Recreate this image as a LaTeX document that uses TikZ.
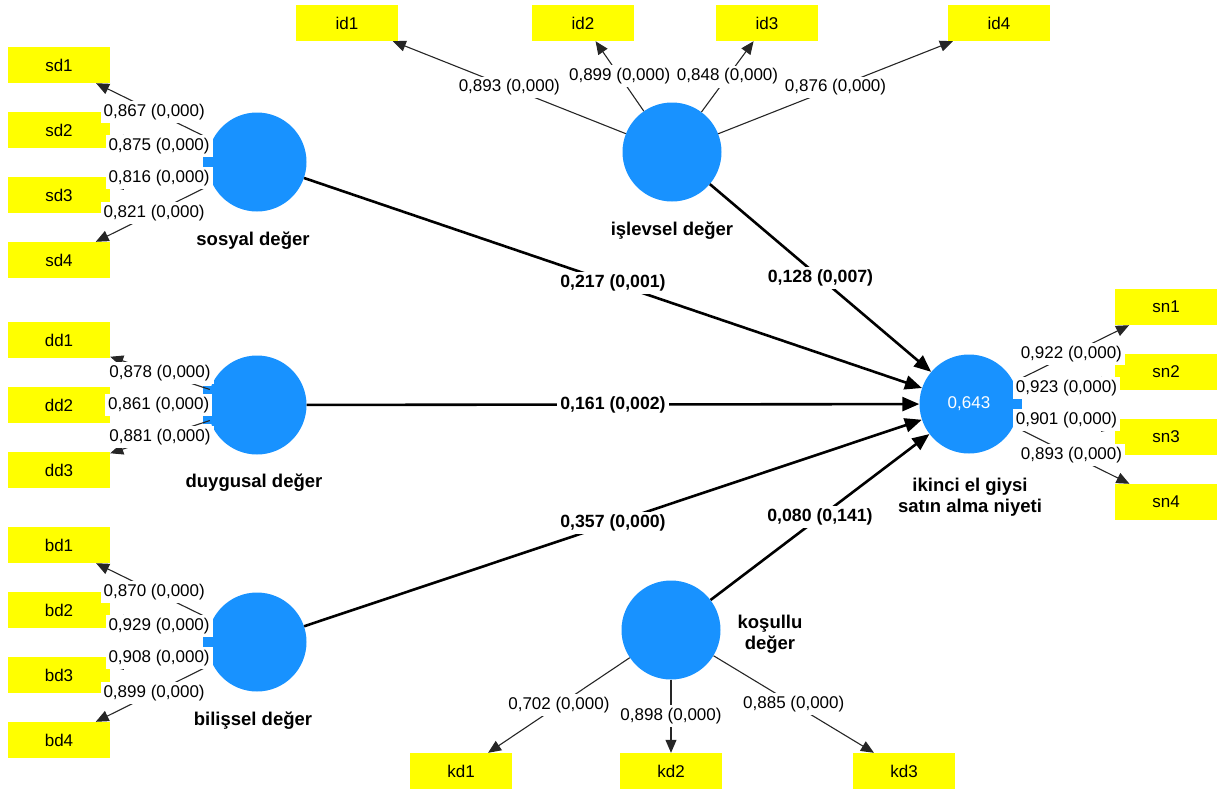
\documentclass[tikz,border=0pt]{standalone}
\usepackage{fontspec}
\setmainfont{Liberation Sans}
\usetikzlibrary{arrows.meta}
\definecolor{plsblue}{RGB}{24,146,255}
\definecolor{plsyellow}{RGB}{255,255,0}
\begin{document}
\begin{tikzpicture}[x=1pt,y=-1pt,
 ind/.style={fill=plsyellow, minimum width=102pt, minimum height=36pt, inner sep=0pt, font=\fontsize{17}{20}\selectfont},
 lat/.style={circle, fill=plsblue, minimum size=99pt, inner sep=0pt, text=white, font=\fontsize{17}{20}\selectfont},
 stub/.style={fill=plsblue, minimum width=10pt, minimum height=38pt, inner sep=0pt},
 load/.style={draw=black!85, line width=1.1pt, -{Triangle[length=13pt,width=11pt]}},
 struct/.style={draw=black, line width=2.6pt, -{Triangle[length=17pt,width=14pt]}},
 lbl/.style={fill=white, inner sep=3pt, font=\fontsize{17}{20}\selectfont},
 plbl/.style={fill=white, inner sep=3pt, font=\bfseries\fontsize{17.7}{20}\selectfont},
 lname/.style={font=\bfseries\fontsize{18.5}{21}\selectfont, align=center, inner sep=0pt},
]
\useasboundingbox (0,0) rectangle (1218,793);
% indicators
\node[ind] (sd1) at (59,65) {sd1};
\node[ind] (sd2) at (59,130) {sd2};
\node[ind] (sd3) at (59,195) {sd3};
\node[ind] (sd4) at (59,260) {sd4};
\node[ind] (dd1) at (59,340) {dd1};
\node[ind] (dd2) at (59,405) {dd2};
\node[ind] (dd3) at (59,470) {dd3};
\node[ind] (bd1) at (59,545) {bd1};
\node[ind] (bd2) at (59,610) {bd2};
\node[ind] (bd3) at (59,675) {bd3};
\node[ind] (bd4) at (59,740) {bd4};
\node[ind] (id1) at (347,23) {id1};
\node[ind] (id2) at (583,23) {id2};
\node[ind] (id3) at (767,23) {id3};
\node[ind] (id4) at (999,23) {id4};
\node[ind] (sn1) at (1166,307) {sn1};
\node[ind] (sn2) at (1166,372) {sn2};
\node[ind] (sn3) at (1166,437) {sn3};
\node[ind] (sn4) at (1166,502) {sn4};
\node[ind] (kd1) at (461,771) {kd1};
\node[ind] (kd2) at (671,771) {kd2};
\node[ind] (kd3) at (904,771) {kd3};
% stubs
\node[stub] (st1) at (208,162) {};
\node[stub] (st2) at (208,405) {};
\node[stub] (st3) at (208,642) {};
\node[stub] (st4) at (1017,404) {};
% latent variables
\node[lat] (sos) at (257,162) {};
\node[lat] (isl) at (672,152) {};
\node[lat] (duy) at (257,405) {};
\node[lat] (bil) at (257,642) {};
\node[lat] (kos) at (671,630) {};
\node[lat] (ike) at (969,404) {0,643};
% names
\node[lname] at (253,241) {sosyal değer};
\node[lname] at (672,231) {işlevsel değer};
\node[lname] at (254,483) {duygusal değer};
\node[lname] at (253,721) {bilişsel değer};
\node[lname] at (970,497) {ikinci el giysi\\[0pt]satın alma niyeti};
\node[lname] at (770,634) {koşullu\\[0pt]değer};
% loadings
\draw[load] (sos) -- coordinate (m-sd1) (sd1);
\draw[load] (sos) -- coordinate (m-sd2) (sd2);
\draw[load] (sos) -- coordinate (m-sd3) (sd3);
\draw[load] (sos) -- coordinate (m-sd4) (sd4);
\draw[load] (duy) -- coordinate (m-dd1) (dd1);
\draw[load] (duy) -- coordinate (m-dd2) (dd2);
\draw[load] (duy) -- coordinate (m-dd3) (dd3);
\draw[load] (bil) -- coordinate (m-bd1) (bd1);
\draw[load] (bil) -- coordinate (m-bd2) (bd2);
\draw[load] (bil) -- coordinate (m-bd3) (bd3);
\draw[load] (bil) -- coordinate (m-bd4) (bd4);
\draw[load] (isl) -- coordinate (m-id1) (id1);
\draw[load] (isl) -- coordinate (m-id2) (id2);
\draw[load] (isl) -- coordinate (m-id3) (id3);
\draw[load] (isl) -- coordinate (m-id4) (id4);
\draw[load] (ike) -- coordinate (m-sn1) (sn1);
\draw[load] (ike) -- coordinate (m-sn2) (sn2);
\draw[load] (ike) -- coordinate (m-sn3) (sn3);
\draw[load] (ike) -- coordinate (m-sn4) (sn4);
\draw[load] (kos) -- coordinate (m-kd1) (kd1);
\draw[load] (kos) -- coordinate (m-kd2) (kd2);
\draw[load] (kos) -- coordinate (m-kd3) (kd3);
% structural paths
\draw[struct] (sos) -- coordinate (p1) (ike);
\draw[struct] (isl) -- coordinate (p2) (ike);
\draw[struct] (duy) -- coordinate (p3) (ike);
\draw[struct] (bil) -- coordinate (p4) (ike);
\draw[struct] (kos) -- coordinate (p5) (ike);
% labels
\node[lbl] at (m-sd1) {0,867 (0,000)};
\node[lbl] at (m-sd2) {0,875 (0,000)};
\node[lbl] at (m-sd3) {0,816 (0,000)};
\node[lbl] at (m-sd4) {0,821 (0,000)};
\node[lbl] at (m-dd1) {0,878 (0,000)};
\node[lbl] at (m-dd2) {0,861 (0,000)};
\node[lbl] at (m-dd3) {0,881 (0,000)};
\node[lbl] at (m-bd1) {0,870 (0,000)};
\node[lbl] at (m-bd2) {0,929 (0,000)};
\node[lbl] at (m-bd3) {0,908 (0,000)};
\node[lbl] at (m-bd4) {0,899 (0,000)};
\node[lbl] at (m-id1) {0,893 (0,000)};
\node[lbl] at (m-id2) {0,899 (0,000)};
\node[lbl] at (m-id3) {0,848 (0,000)};
\node[lbl] at (m-id4) {0,876 (0,000)};
\node[lbl] at (m-sn1) {0,922 (0,000)};
\node[lbl] at (m-sn2) {0,923 (0,000)};
\node[lbl] at (m-sn3) {0,901 (0,000)};
\node[lbl] at (m-sn4) {0,893 (0,000)};
\node[lbl] at (m-kd1) {0,702 (0,000)};
\node[lbl] at (m-kd2) {0,898 (0,000)};
\node[lbl] at (m-kd3) {0,885 (0,000)};
\node[plbl] at (p1) {0,217 (0,001)};
\node[plbl] at (p2) {0,128 (0,007)};
\node[plbl] at (p3) {0,161 (0,002)};
\node[plbl] at (p4) {0,357 (0,000)};
\node[plbl] at (p5) {0,080 (0,141)};
\end{tikzpicture}
\end{document}
